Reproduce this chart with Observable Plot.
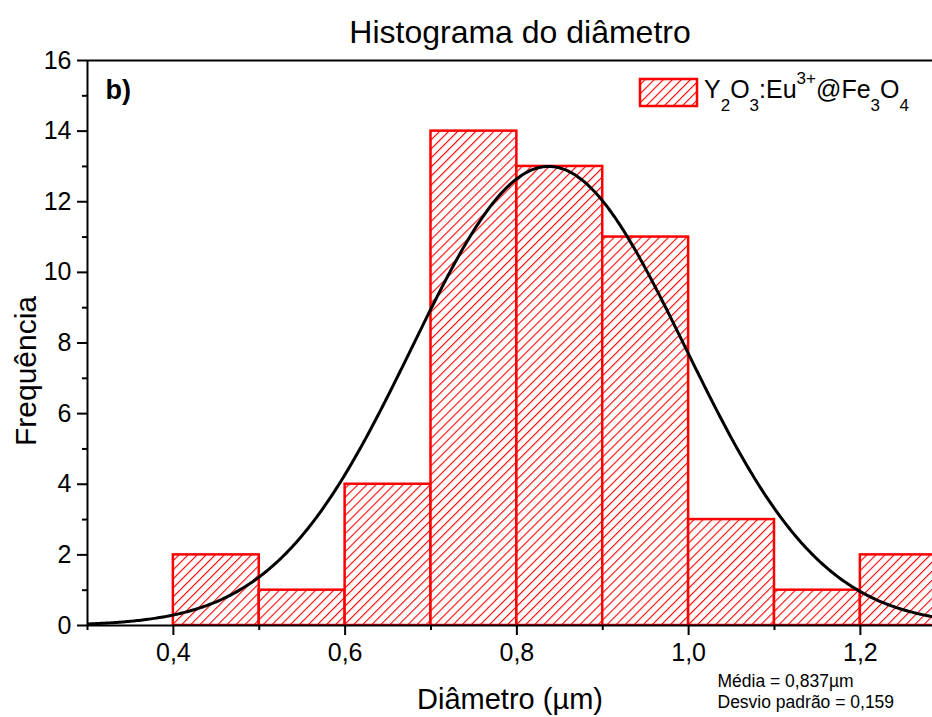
<!DOCTYPE html>
<html>
<head>
<meta charset="utf-8">
<script src="https://cdn.jsdelivr.net/npm/d3@7"></script>
<script src="https://cdn.jsdelivr.net/npm/@observablehq/plot@0.6"></script>
<style>
  body { margin: 0; background: #fff; }
  svg { display: block; }
</style>
</head>
<body>
<div id="chart"></div>
<script>
// Histogram bins (left edges, µm) and counts
const binStart = [0.4, 0.5, 0.6, 0.7, 0.8, 0.9, 1.0, 1.1, 1.2];
const binWidth = 0.1;
const counts = [2, 1, 4, 14, 13, 11, 3, 1, 2];

// Normal fit parameters
const meanDiameter = 0.837;
const sdDiameter = 0.159;
const curvePeak = 13.0;

// Axis ticks
const yMajorTicks = [0, 2, 4, 6, 8, 10, 12, 14, 16];
const yMinorTicks = [1, 3, 5, 7, 9, 11, 13, 15];
const xMajorTicks = [0.4, 0.6, 0.8, 1.0, 1.2];
const xMinorTicks = [0.3, 0.5, 0.7, 0.9, 1.1];

const titleText = "Histograma do diâmetro";
const panelTag = "b)";
const xLabel = "Diâmetro (µm)";
const yLabel = "Frequência";

const font = "'Liberation Sans', Arial, sans-serif";
const red = "#ff0000";
const comma = (v) => d3.format(".1f")(v).replace(".", ",");

const bins = binStart.map((x0, i) => ({x1: x0, x2: x0 + binWidth, count: counts[i]}));

// Gaussian fit drawn from the stated mean and standard deviation
const xMin = 0.3, xMax = 1.284;
const fit = d3.range(xMin, xMax + 0.001, 0.002).map((x) => ({
  x,
  y: curvePeak * Math.exp(-((x - meanDiameter) ** 2) / (2 * sdDiameter ** 2))
}));

const chart = Plot.plot({
  width: 932,
  height: 717,
  marginLeft: 87,
  marginRight: 0,
  marginTop: 60,
  marginBottom: 92,
  style: {fontFamily: font, background: "#fff", color: "#000"},
  x: {type: "linear", domain: [xMin, xMax]},
  y: {type: "linear", domain: [0, 16]},
  marks: [
    Plot.rectY(bins, {x1: "x1", x2: "x2", y: "count", fill: "url(#hatch)", stroke: red, strokeWidth: 2.5, clip: true}),
    Plot.line(fit, {x: "x", y: "y", stroke: "#000", strokeWidth: 3, clip: true}),
    // frame lines
    Plot.ruleX([xMin], {stroke: "#000", strokeWidth: 2}),
    Plot.ruleY([0], {stroke: "#000", strokeWidth: 2}),
    Plot.ruleY([16], {stroke: "#000", strokeWidth: 2}),
    // tick marks
    Plot.axisY({ticks: yMajorTicks, tickSize: 10, strokeWidth: 2, text: null, label: null}),
    Plot.axisY({ticks: yMinorTicks, tickSize: 5, strokeWidth: 2, text: null, label: null}),
    Plot.axisX({ticks: xMajorTicks, tickSize: 10, strokeWidth: 2, text: null, label: null}),
    Plot.axisX({ticks: xMinorTicks, tickSize: 5, strokeWidth: 2, text: null, label: null}),
    // tick labels
    Plot.text(yMajorTicks, {x: xMin, y: (d) => d, text: (d) => String(d), dx: -16, fontSize: 25,
      textAnchor: "end", lineAnchor: "middle"}),
    Plot.text(xMajorTicks, {x: (d) => d, y: 0, text: comma, dy: 18, fontSize: 25,
      textAnchor: "middle", lineAnchor: "top"}),
    // axis titles
    Plot.text([yLabel], {frameAnchor: "left", dx: -61, dy: 28, rotate: -90, fontSize: 30,
      textAnchor: "middle", lineAnchor: "middle"}),
    Plot.text([xLabel], {frameAnchor: "bottom", dx: 0, dy: 74, fontSize: 29, lineAnchor: "middle"}),
    // title and annotations
    Plot.text([titleText], {frameAnchor: "top", dx: 10, dy: -28, fontSize: 32, lineAnchor: "middle"}),
    Plot.text([panelTag], {frameAnchor: "top-left", dx: 18, dy: 30, fontSize: 27, fontWeight: "bold",
      textAnchor: "start", lineAnchor: "middle"}),
    Plot.text([`Média = ${d3.format(".3f")(meanDiameter).replace(".", ",")}µm`],
      {frameAnchor: "bottom-left", dx: 630, dy: 56, fontSize: 17.5, textAnchor: "start", lineAnchor: "middle"}),
    Plot.text([`Desvio padrão = ${d3.format(".3f")(sdDiameter).replace(".", ",")}`],
      {frameAnchor: "bottom-left", dx: 630, dy: 77, fontSize: 17.5, textAnchor: "start", lineAnchor: "middle"})
  ]
});

// Hatch fill for the bars
const svg = d3.select(chart);
const defs = svg.insert("defs", ":first-child");
const pat = defs.append("pattern")
  .attr("id", "hatch")
  .attr("patternUnits", "userSpaceOnUse")
  .attr("width", 6.4)
  .attr("height", 6.4)
  .attr("patternTransform", "rotate(45)");
pat.append("rect").attr("width", 6.4).attr("height", 6.4).attr("fill", "#fff");
pat.append("line").attr("x1", 0).attr("y1", 0).attr("x2", 0).attr("y2", 6.4)
  .attr("stroke", red).attr("stroke-width", 2.2);

// Legend
const legend = svg.append("g").attr("font-family", font).attr("text-anchor", "start");
legend.append("rect").attr("x", 640).attr("y", 79).attr("width", 57).attr("height", 27)
  .attr("fill", "url(#hatch)").attr("stroke", red).attr("stroke-width", 2.5);
const lt = legend.append("text").attr("x", 704).attr("y", 97.5).attr("font-size", 25).attr("fill", "#000");
const parts = [["Y"], ["2", "sub"], ["O"], ["3", "sub"], [":Eu"], ["3+", "sup"], ["@Fe"], ["3", "sub"], ["O"], ["4", "sub"]];
let shift = 0;
for (const [t, kind] of parts) {
  const target = kind === "sub" ? 13 : kind === "sup" ? -14 : 0;
  lt.append("tspan")
    .attr("dy", target - shift)
    .attr("font-size", kind ? 17 : 25)
    .text(t);
  shift = target;
}

document.getElementById("chart").appendChild(chart);
</script>
</body>
</html>
